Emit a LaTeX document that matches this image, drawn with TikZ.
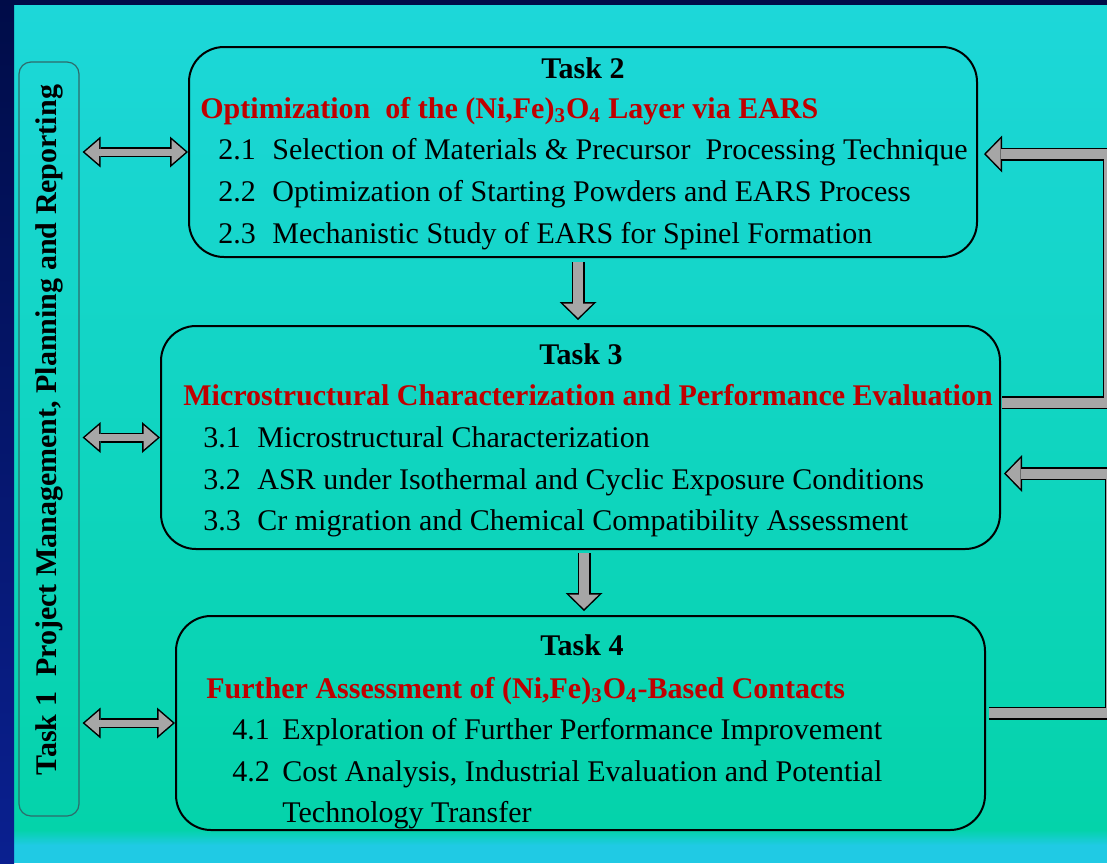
\documentclass[tikz,border=0pt]{standalone}
\usepackage{fontspec}
\setmainfont{Liberation Serif}
\usetikzlibrary{arrows.meta,calc,positioning}
\definecolor{SlideNavy}{HTML}{000C48}
\definecolor{SlideBlue}{HTML}{0A2090}
\definecolor{SlideCyan}{HTML}{1DD7D9}
\definecolor{SlideTeal}{HTML}{04D3AA}
\definecolor{SlideSky}{HTML}{20CAE4}
\definecolor{TaskRed}{HTML}{C00000}
\definecolor{ArrowGray}{HTML}{A6A6A6}
\definecolor{SideEdge}{HTML}{2E6B6B}
\newcommand{\subtask}[3][27pt]{\makebox[#1][l]{#2}#3}

\begin{document}
\begin{tikzpicture}[x=0.5pt, y=-0.5pt, font=\fontsize{15}{21}\selectfont,
  taskbox/.style={draw=black, line width=1pt, rounded corners=17.5pt},
  sidebox/.style={draw=SideEdge, line width=0.6pt, rounded corners=6pt,
    minimum width=30pt, minimum height=377pt},
  sidelabel/.style={font=\fontsize{15}{21}\selectfont\bfseries, inner sep=0pt},
  taskhead/.style={font=\fontsize{15}{21}\selectfont\bfseries, anchor=base, inner sep=0pt},
  redtitle/.style={text=TaskRed, font=\fontsize{15}{21}\selectfont\bfseries,
    anchor=base west, inner sep=0pt},
  itemline/.style={anchor=base west, inner sep=0pt},
  barout/.style={draw=black, line width=6.5pt, line join=miter,
    -{Triangle[length=9pt, width=18.5pt, line width=0pt]}},
  barin/.style={draw=ArrowGray, line width=5pt, line join=miter,
    -{Triangle[length=7.2pt, width=14.8pt, line width=0pt]}, shorten >=1.05pt},
  twinout/.style={draw=black, line width=5pt,
    {Triangle[length=9pt, width=15.5pt, line width=0pt]}-{Triangle[length=9pt, width=15.5pt, line width=0pt]}},
  twinin/.style={draw=ArrowGray, line width=3.5pt,
    {Triangle[length=7.1pt, width=12.2pt, line width=0pt]}-{Triangle[length=7.1pt, width=12.2pt, line width=0pt]},
    shorten <=1.15pt, shorten >=1.15pt}]

  % slide background
  \useasboundingbox (0,0) rectangle (1107,863);
  \clip (0,0) rectangle (1107,863);
  \shade[top color=SlideCyan, bottom color=SlideTeal] (14,5) rectangle (1107,830);
  \shade[top color=SlideTeal, bottom color=SlideSky] (14,830) rectangle (1107,845);
  \fill[SlideSky] (14,845) rectangle (1107,863);
  \shade[top color=SlideNavy, bottom color=SlideBlue] (0,0) rectangle (14,863);
  \fill[SlideNavy] (0,0) rectangle (1107,5);

  % boxes
  \node[sidebox] (t1) at (49,439) {};
  \node[sidelabel, rotate=90] (t1l) at (49,430) {Task 1\ \ Project Management, Planning and Reporting};
  \node[taskbox, minimum width=394pt, minimum height=105pt] (t2) at (583,152) {};
  \node[taskbox, minimum width=419.5pt, minimum height=111.5pt] (t3) at (580.5,437.5) {};
  \node[taskbox, minimum width=404.5pt, minimum height=107pt] (t4) at (580.5,723) {};

  % task 2
  \node[taskhead] (t2h) at (583,78) {Task 2};
  \node[redtitle] (t2t) at (200,118) {Optimization\ \ of the (Ni,Fe)\textsubscript{3}O\textsubscript{4} Layer via EARS};
  \node[itemline] (t2a) at (218,159) {\subtask{2.1}{Selection of Materials \& Precursor\ \ Processing Technique}};
  \node[itemline] (t2b) at (218,201) {\subtask{2.2}{Optimization of Starting Powders and EARS Process}};
  \node[itemline] (t2c) at (218,243) {\subtask{2.3}{Mechanistic Study of EARS for Spinel Formation}};

  % task 3
  \node[taskhead] (t3h) at (581,364) {Task 3};
  \node[redtitle] (t3t) at (183,405) {Microstructural Characterization and Performance Evaluation};
  \node[itemline] (t3a) at (203,447) {\subtask{3.1}{Microstructural Characterization}};
  \node[itemline] (t3b) at (203,489) {\subtask{3.2}{ASR under Isothermal and Cyclic Exposure Conditions}};
  \node[itemline] (t3c) at (203,530) {\subtask{3.3}{Cr migration and Chemical Compatibility Assessment}};

  % task 4
  \node[taskhead] (t4h) at (582,655) {Task 4};
  \node[redtitle] (t4t) at (206,698) {Further Assessment of (Ni,Fe)\textsubscript{3}O\textsubscript{4}-Based Contacts};
  \node[itemline] (t4a) at (232,739) {\subtask[25pt]{4.1}{Exploration of Further Performance Improvement}};
  \node[itemline] (t4b) at (232,781) {\subtask[25pt]{4.2}{Cost Analysis, Industrial Evaluation and Potential}};
  \node[itemline] (t4c) at (282,822) {Technology Transfer};

  % task 1 links
  \draw[twinout] ($(t1.east |- t2.west)+(3,0)$) -- (t2.west);
  \draw[twinin]  ($(t1.east |- t2.west)+(3,0)$) -- (t2.west);
  \draw[twinout] ($(t1.east |- t3.west)+(3,0)$) -- (t3.west);
  \draw[twinin]  ($(t1.east |- t3.west)+(3,0)$) -- (t3.west);
  \draw[twinout] ($(t1.east |- t4.west)+(3,0)$) -- (t4.west);
  \draw[twinin]  ($(t1.east |- t4.west)+(3,0)$) -- (t4.west);

  % downward flow
  \coordinate (d1) at ($(t2.south)+(-5,4)$);
  \coordinate (d2) at ($(t3.south)+(3.5,3)$);
  \draw[barout] (d1) -- ($(d1 |- t3.north)+(0,-5)$);
  \draw[barin]  (d1) -- ($(d1 |- t3.north)+(0,-5)$);
  \draw[barout] (d2) -- ($(d2 |- t4.north)+(0,-4)$);
  \draw[barin]  (d2) -- ($(d2 |- t4.north)+(0,-4)$);

  % feedback loops
  \draw[barout] ($(t3.east)+(1,-35)$) -| ($(t2.east)+(131,2)$) -- ($(t2.east)+(6,2)$);
  \draw[barin]  ($(t3.east)+(1,-35)$) -| ($(t2.east)+(131,2)$) -- ($(t2.east)+(6,2)$);
  \draw[barout] ($(t4.east)+(3,-10)$) -| ($(t3.east)+(110,36)$) -- ($(t3.east)+(3,36)$);
  \draw[barin]  ($(t4.east)+(3,-10)$) -| ($(t3.east)+(110,36)$) -- ($(t3.east)+(3,36)$);
\end{tikzpicture}
\end{document}
